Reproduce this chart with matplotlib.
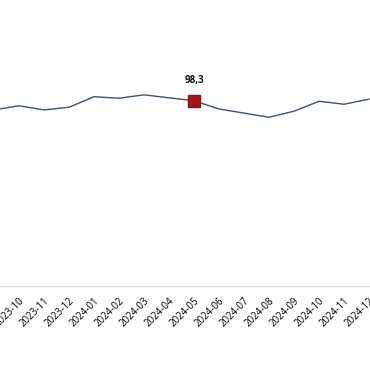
import matplotlib.pyplot as plt

months = ["2023-09", "2023-10", "2023-11", "2023-12", "2024-01", "2024-02", "2024-03",
          "2024-04", "2024-05", "2024-06", "2024-07", "2024-08", "2024-09", "2024-10",
          "2024-11", "2024-12"]
values = [93.4, 95.6, 93.4, 94.8, 100.4, 99.6, 101.4, 99.8, 98.3, 93.9, 91.7, 89.5,
          92.7, 98.0, 96.4, 99.1]
highlight = "2024-05"
highlight_label = "98,3"

plt.rcParams['font.family'] = ['Open Sans', 'DejaVu Sans']

fig = plt.figure(figsize=(3.7, 3.8), dpi=100)
ax = fig.add_axes([0, 94 / 380, 1, 286 / 380])

x = list(range(len(months)))
ax.plot(x, values, color="#3f5468", lw=1.0, zorder=2)

hi = months.index(highlight)
ax.plot(hi, values[hi], marker="s", ms=8.5, color="#a3161b", mec="#8a1015", zorder=3)
ax.annotate(highlight_label, (hi, values[hi]), xytext=(0, 10.5), textcoords="offset points",
            ha="center", va="bottom", fontsize=7, fontweight="bold", color="#111111")

ax.set_xlim(1 - 19 / 25, 1 + 351 / 25)
ax.set_ylim(0, 151.7)

ax.set_xticks(x[1:])
ax.set_xticklabels(months[1:], rotation=45, ha="right", rotation_mode="anchor", fontsize=7)
ax.tick_params(axis="x", length=0, pad=7)
ax.set_yticks([])

for s in ["top", "left", "right"]:
    ax.spines[s].set_visible(False)
ax.spines["bottom"].set_color("#d9d9d9")
ax.spines["bottom"].set_linewidth(1.0)

fig.savefig("out.png", dpi=100)
